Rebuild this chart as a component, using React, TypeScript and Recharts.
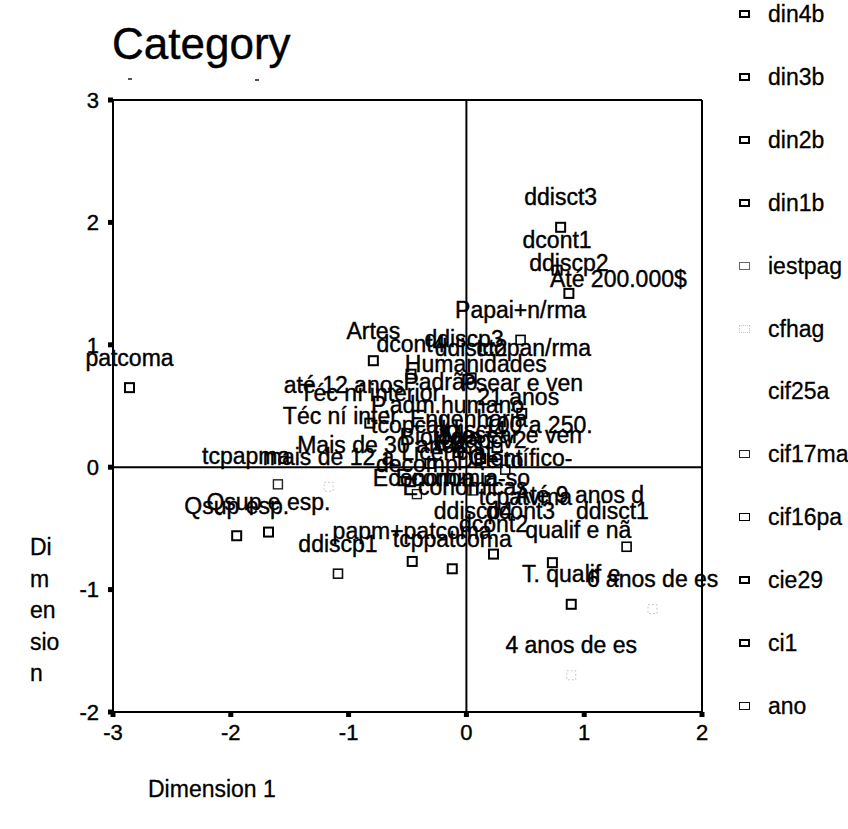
import React from 'react';
import { ScatterChart, Scatter, XAxis, YAxis, ReferenceLine } from 'recharts';

const xTicks = [-3, -2, -1, 0, 1, 2];
const yTicks = [-2, -1, 0, 1, 2, 3];

const legendNames = [
  'din4b', 'din3b', 'din2b', 'din1b', 'iestpag', 'cfhag',
  'cif25a', 'cif17ma', 'cif16pa', 'cie29', 'ci1', 'ano',
];

// category points: label, dimension 1, dimension 2, variable
const categoryLabels = [
  'patcoma', 'ddisct3', 'dcont1', 'ddiscp2', 'Até 200.000$', 'Papai+n/rma',
  'Artes', 'dcont4', 'ddiscp3', 'ddisct2', 'tcopan/rma', 'Humanidades',
  'até 12 anos', 'Padrão', 'Psear e ven', 'Téc ní interior', '21 anos', 'Téc ní inter',
  'P.adm.humano', 'tcopcal', 'Engenharia', '100 a 250.', 'Mais de 30 anos', 'Mesear e ven',
  'tcpapma', 'mais de 12 a', 'Científico-', 'decomp', 'Economia', 'Economia-so',
  'Económicas', 'tcpatvma', 'Até 9 anos d', 'ddisct1', 'ddiscp4', 'dcont3',
  'dcont2', 'papm+patcoma', 'tcppatcoma', 'qualif e nã', 'ddiscp1', 'Qsup esp.',
  'Qsup e esp.', 'T. qualif e', '6 anos de es', '4 anos de es', 'Biologia', 'tcpapcv2',
  'Licenciat.', 'Direito', 'ddisct4',
  '', '', '', '', '', '', '', '', '', '', '', '',
];
const dim1 = [
  -2.86, 0.8, 0.77, 0.87, 1.29, 0.46,
  -0.79, -0.47, -0.02, 0.04, 0.57, 0.08,
  -1.04, -0.22, 0.47, -0.82, 0.44, -1.07,
  -0.16, -0.5, 0.02, 0.61, -0.72, 0.39,
  -1.87, -1.17, 0.46, -0.42, -0.36, -0.03,
  -0.01, 0.5, 0.96, 1.24, 0.06, 0.46,
  0.23, -0.46, -0.12, 0.95, -1.09, -1.95,
  -1.68, 0.89, 1.58, 0.89, -0.22, 0.12,
  -0.14, 0.2, 0.03,
  -1.6, 1.36, 0.73, -0.22, -0.07, 0.12, 0.26, -0.31, 0.33, -0.14, 0.2, 0.05,
];
const dim2 = [
  0.65, 1.96, 1.61, 1.42, 1.29, 1.04,
  0.87, 0.76, 0.8, 0.73, 0.73, 0.6,
  0.43, 0.45, 0.44, 0.36, 0.33, 0.17,
  0.26, 0.1, 0.15, 0.1, -0.06, 0.02,
  -0.15, -0.16, -0.17, -0.22, -0.33, -0.33,
  -0.41, -0.49, -0.47, -0.6, -0.6, -0.6,
  -0.71, -0.77, -0.83, -0.76, -0.87, -0.56,
  -0.53, -1.12, -1.16, -1.7, 0.0, -0.02,
  -0.12, -0.19, 0.06,
  -0.14, -0.65, -0.78, 0.18, 0.12, 0.07, 0.16, 0.03, -0.02, -0.09, -0.11, -0.19,
];
const variable = [
  'din4b', 'ci1', 'din2b', 'din1b', 'cif25a', 'cif16pa',
  'cie29', 'din2b', 'cif25a', 'ci1', 'cif25a', 'cif25a',
  'cif25a', 'cif25a', 'cie29', 'din4b', 'cif25a', 'cif25a',
  'cif25a', 'cif25a', 'cif25a', 'cif25a', 'cif25a', 'cif25a',
  'cif25a', 'cfhag', 'cif25a', 'cif17ma', 'cif25a', 'cif25a',
  'cif25a', 'cif25a', 'cif25a', 'cif25a', 'cif25a', 'cif25a',
  'din3b', 'din1b', 'ci1', 'cif25a', 'ano', 'din4b',
  'din3b', 'cie29', 'cfhag', 'cfhag', 'cif25a', 'cif25a',
  'cif25a', 'cif25a', 'cif25a',
  'cif17ma', 'cif16pa', 'din2b', 'din3b', 'din1b', 'ci1', 'cie29', 'din4b', 'ano', 'cif16pa', 'din2b', 'cif17ma',
];

const points = categoryLabels.map((label, i) => ({
  label,
  x: dim1[i],
  y: dim2[i],
  variable: variable[i],
}));

const FONT = '"Liberation Sans", Arial, sans-serif';

type Look = { stroke: string; width: number; dash?: string } | null;
const looks: Record<string, Look> = {
  din4b: { stroke: '#000', width: 2 },
  din3b: { stroke: '#000', width: 2 },
  din2b: { stroke: '#000', width: 2 },
  din1b: { stroke: '#000', width: 2 },
  iestpag: { stroke: '#666', width: 1.2 },
  cfhag: { stroke: '#c8c8c8', width: 1, dash: '2 2' },
  cif25a: null,
  cif17ma: { stroke: '#222', width: 1.4 },
  cif16pa: { stroke: '#000', width: 1.6 },
  cie29: { stroke: '#000', width: 2 },
  ci1: { stroke: '#000', width: 2 },
  ano: { stroke: '#111', width: 1.6 },
};

const markerShape = (name: string) => (props: any) => {
  const look = looks[name];
  if (!look || props.cx == null) return <g />;
  return (
    <rect
      x={props.cx - 4.5}
      y={props.cy - 4.5}
      width={9}
      height={9}
      fill="#fff"
      stroke={look.stroke}
      strokeWidth={look.width}
      strokeDasharray={look.dash}
    />
  );
};

const labelShape = (props: any) => {
  const label = props.payload?.label;
  if (!label || props.cx == null) return <g />;
  return (
    <text
      x={props.cx}
      y={props.cy - 22}
      textAnchor="middle"
      fontFamily={FONT}
      fontSize={23}
      fill="#000"
      stroke="#000"
      strokeWidth={0.4}
    >
      {label}
    </text>
  );
};

const yLabelLines = ['Di', 'm', 'en', 'sio', 'n'];

export default function App() {
  return (
    <div
      style={{
        position: 'absolute',
        left: 0,
        top: 0,
        width: 848,
        height: 829,
        background: '#fff',
        fontFamily: FONT,
        overflow: 'hidden',
      }}
    >
      <div style={{ position: 'absolute', left: 112, top: 18, fontSize: 44, lineHeight: '52px', color: '#000', WebkitTextStroke: '0.4px #000' }}>
        Category
      </div>
      <div style={{ position: 'absolute', left: 128, top: 78, width: 4, height: 2, background: '#555' }} />
      <div style={{ position: 'absolute', left: 255, top: 79, width: 4, height: 2, background: '#555' }} />

      <ScatterChart
        width={848}
        height={829}
        margin={{ top: 100, right: 146, bottom: 67, left: 53 }}
      >
        <XAxis
          type="number"
          dataKey="x"
          domain={[-3, 2]}
          ticks={xTicks}
          height={50}
          stroke="#000"
          axisLine={{ stroke: '#000', strokeWidth: 2 }}
          tickLine={{ stroke: '#000', strokeWidth: 5 }}
          tickSize={5}
          tickMargin={7}
          tick={{ fill: '#000', fontSize: 22, fontFamily: FONT, stroke: '#000', strokeWidth: 0.4 }}
        />
        <YAxis
          type="number"
          dataKey="y"
          domain={[-2, 3]}
          ticks={yTicks}
          width={60}
          stroke="#000"
          axisLine={{ stroke: '#000', strokeWidth: 2 }}
          tickLine={{ stroke: '#000', strokeWidth: 5 }}
          tickSize={5}
          tickMargin={9}
          tick={{ fill: '#000', fontSize: 22, fontFamily: FONT, stroke: '#000', strokeWidth: 0.4 }}
        />
        <ReferenceLine y={3} stroke="#000" strokeWidth={2} />
        <ReferenceLine x={2} stroke="#000" strokeWidth={2} />
        <ReferenceLine y={0} stroke="#000" strokeWidth={2} />
        <ReferenceLine x={0} stroke="#000" strokeWidth={2} />
        {legendNames.map((name) => (
          <Scatter
            key={name}
            name={name}
            data={points.filter((p) => p.variable === name)}
            shape={markerShape(name)}
            isAnimationActive={false}
          />
        ))}
        <Scatter
          name="labels"
          data={points}
          shape={labelShape}
          isAnimationActive={false}
        />
      </ScatterChart>

      <div style={{ position: 'absolute', left: 148, top: 776, fontSize: 23, color: '#000', WebkitTextStroke: '0.3px #000' }}>
        Dimension 1
      </div>
      <div style={{ position: 'absolute', left: 30, top: 532, fontSize: 23, lineHeight: '31.5px', color: '#000', WebkitTextStroke: '0.3px #000' }}>
        {yLabelLines.map((t) => (
          <div key={t}>{t}</div>
        ))}
      </div>

      {legendNames.map((name, i) => {
        const look = looks[name];
        const cy = 14 + i * 62.9;
        return (
          <div key={name}>
            {look && (
              <div
                style={{
                  position: 'absolute',
                  left: 739,
                  top: cy - 4,
                  width: 11,
                  height: 8,
                  boxSizing: 'border-box',
                  border: `${look.width}px ${look.dash ? 'dotted' : 'solid'} ${look.stroke}`,
                  background: '#fff',
                }}
              />
            )}
            <div
              style={{
                position: 'absolute',
                left: 768,
                top: cy - 13,
                fontSize: 23,
                lineHeight: '26px',
                color: '#000',
                whiteSpace: 'nowrap',
                WebkitTextStroke: '0.3px #000',
              }}
            >
              {name}
            </div>
          </div>
        );
      })}
    </div>
  );
}
